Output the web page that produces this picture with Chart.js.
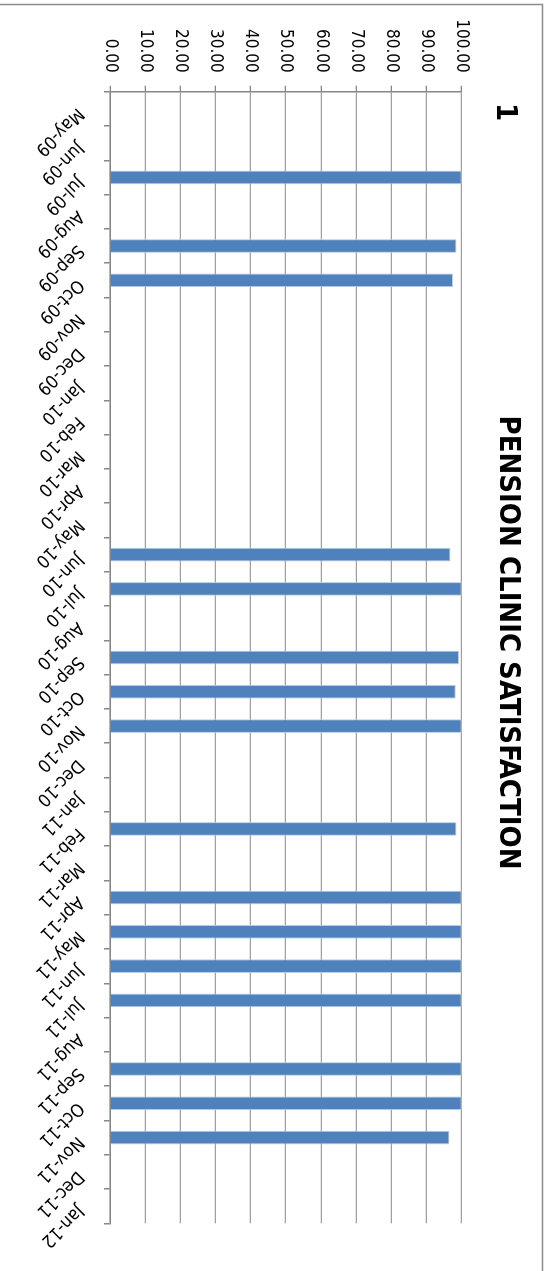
<!DOCTYPE html>
<html>
<head>
<meta charset="utf-8">
<script src="https://cdn.jsdelivr.net/npm/chart.js@4/dist/chart.umd.min.js"></script>
<style>
  html, body { margin: 0; padding: 0; background: #ffffff; overflow: hidden; }
  body { width: 551px; height: 1271px; position: relative; }
  /* the chart is laid out landscape and turned a quarter clockwise onto the portrait page */
  #stage {
    position: absolute; left: 0; top: 0;
    width: 1271px; height: 551px;
    transform-origin: 0 0;
    transform: translateX(551px) rotate(90deg);
  }
</style>
</head>
<body>
<div id="stage"><canvas id="chart" width="1271" height="551"></canvas></div>
<script>
// Monthly clinic satisfaction (%), blank months have no survey
const months = [
  'May-09', 'Jun-09', 'Jul-09', 'Aug-09', 'Sep-09', 'Oct-09', 'Nov-09', 'Dec-09',
  'Jan-10', 'Feb-10', 'Mar-10', 'Apr-10', 'May-10', 'Jun-10', 'Jul-10', 'Aug-10',
  'Sep-10', 'Oct-10', 'Nov-10', 'Dec-10', 'Jan-11', 'Feb-11', 'Mar-11', 'Apr-11',
  'May-11', 'Jun-11', 'Jul-11', 'Aug-11', 'Sep-11', 'Oct-11', 'Nov-11', 'Dec-11',
  'Jan-12'
];
const satisfaction = [
  null, null, 100, null, 98.5, 97.5, null, null,
  null, null, null, null, null, 96.8, 100, null,
  99.2, 98.3, 100, null, null, 98.5, null, 100,
  100, 100, 100, null, 100, 100, 96.5, null,
  null
];
const valueMin = 0;
const valueMax = 100;
const valueStep = 10;
const chartTitle = 'PENSION CLINIC SATISFACTION';
const chartNumber = '1';

const FONT = '"DejaVu Sans Condensed", "Liberation Sans Narrow", sans-serif';
const AXIS_GREY = '#868686';
const GRID_GREY = '#a0a0a0';

// Month labels start just under their column and run down to the right.
const frameAndLabels = {
  id: 'frameAndLabels',
  beforeDraw(chart) {
    const xs = chart.scales.x;
    xs.getLabelItems().forEach((item, i) => {
      item.options.rotation = Math.PI / 4;
      item.options.textAlign = 'left';
      item.options.textBaseline = 'alphabetic';
      item.textOffset = 0;
      item.options.translation = [xs.getPixelForTick(i) - 1.7, xs.top + 33];
    });
  },
  afterDraw(chart) {
    const ctx = chart.ctx;
    ctx.save();
    ctx.strokeStyle = '#8c8c8c';
    ctx.lineWidth = 1.5;
    ctx.strokeRect(4.5, 8.5, chart.width + 40, chart.height + 40);
    ctx.fillStyle = '#000000';
    ctx.font = 'bold 29px ' + FONT;
    ctx.textAlign = 'left';
    ctx.textBaseline = 'alphabetic';
    ctx.fillText(chartNumber, 103, 54);
    ctx.restore();
  }
};

new Chart(document.getElementById('chart'), {
  type: 'bar',
  data: {
    labels: months,
    datasets: [{
      data: satisfaction,
      backgroundColor: '#4f81bd',
      borderColor: '#b9cde5',
      borderWidth: 1,
      barPercentage: 0.4,
      categoryPercentage: 1.0
    }]
  },
  options: {
    responsive: false,
    animation: false,
    devicePixelRatio: 1,
    layout: { padding: { left: 14, right: 0, top: 0, bottom: 0 } },
    plugins: {
      legend: { display: false },
      tooltip: { enabled: false },
      title: {
        display: true,
        text: chartTitle,
        color: '#000000',
        font: { family: FONT, size: 29, weight: 'bold' },
        padding: { top: 26, bottom: 28.5 }
      }
    },
    scales: {
      x: {
        grid: { display: true, drawOnChartArea: false, offset: true, tickLength: 6, color: AXIS_GREY, lineWidth: 1.5 },
        border: { color: AXIS_GREY, width: 1.5 },
        ticks: {
          autoSkip: false, minRotation: 45, maxRotation: 45,
          color: '#000000', font: { family: FONT, size: 18 }
        },
        afterFit(s) { s.height = 110; }
      },
      y: {
        min: valueMin,
        max: valueMax,
        ticks: {
          stepSize: valueStep,
          color: '#000000',
          font: { family: FONT, size: 17 },
          padding: 13,
          callback: v => Number(v).toFixed(2)
        },
        grid: { color: GRID_GREY, lineWidth: 1.3, tickLength: 6, tickColor: AXIS_GREY },
        border: { color: AXIS_GREY, width: 1.5 },
        afterFit(s) { s.width = 77.7; }
      },
      gutter: {
        position: 'right',
        grid: { display: false },
        border: { display: false },
        ticks: { display: false },
        afterFit(s) { s.width = 47.7; }
      }
    }
  },
  plugins: [frameAndLabels]
});
</script>
</body>
</html>
